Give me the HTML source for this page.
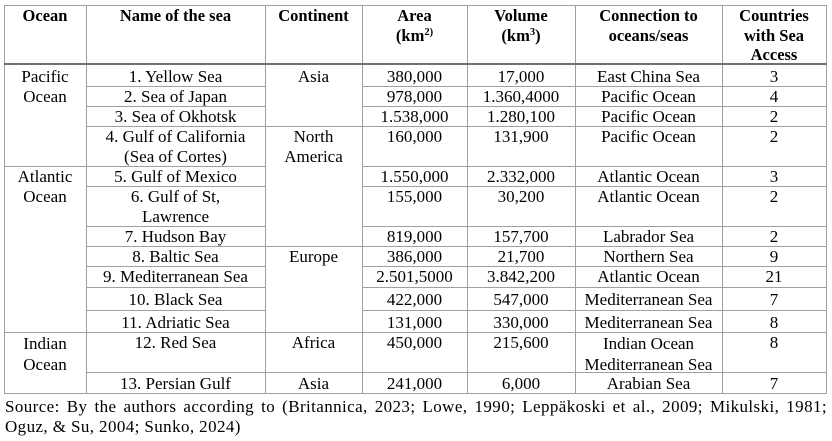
<!DOCTYPE html>
<html>
<head>
<meta charset="utf-8">
<style>
  html,body{margin:0;padding:0;background:#fff;}
  #w{position:relative;width:832px;height:441px;overflow:hidden;background:#fff;
     font-family:"Liberation Serif","Times New Roman",serif;font-size:17px;color:#000;}
  .h{position:absolute;height:1px;background:#a0a0a0;}
  .v{position:absolute;width:1px;background:#a0a0a0;}
  .t{position:absolute;text-align:center;line-height:20px;white-space:nowrap;}
  .b{font-weight:bold;line-height:19.5px;font-size:16.5px;}
  sup{font-size:10.5px;line-height:0;vertical-align:baseline;position:relative;top:-6px;}
  .src{position:absolute;left:5px;width:822px;line-height:20px;letter-spacing:0.4px;}
  .src .l1{display:block;text-align:justify;text-align-last:justify;}
</style>
</head>
<body>
<div id="w">
  <!-- vertical lines -->
  <div class="v" style="left:4px;top:5px;height:389px;"></div>
  <div class="v" style="left:86px;top:5px;height:389px;"></div>
  <div class="v" style="left:265px;top:5px;height:389px;"></div>
  <div class="v" style="left:362px;top:5px;height:389px;"></div>
  <div class="v" style="left:467px;top:5px;height:389px;"></div>
  <div class="v" style="left:575px;top:5px;height:389px;"></div>
  <div class="v" style="left:722px;top:5px;height:389px;"></div>
  <div class="v" style="left:826px;top:5px;height:389px;"></div>

  <!-- horizontal lines -->
  <div class="h" style="left:4px;top:5px;width:823px;"></div>
  <div class="h" style="left:4px;top:63px;width:823px;height:2px;background:#707070;"></div>

  <div class="h" style="left:86px;top:86px;width:179px;"></div>
  <div class="h" style="left:362px;top:86px;width:465px;"></div>
  <div class="h" style="left:86px;top:106px;width:179px;"></div>
  <div class="h" style="left:362px;top:106px;width:465px;"></div>
  <div class="h" style="left:86px;top:126px;width:741px;"></div>
  <div class="h" style="left:4px;top:166px;width:261px;"></div>
  <div class="h" style="left:362px;top:166px;width:465px;"></div>
  <div class="h" style="left:86px;top:186px;width:179px;"></div>
  <div class="h" style="left:362px;top:186px;width:465px;"></div>
  <div class="h" style="left:86px;top:226px;width:179px;"></div>
  <div class="h" style="left:362px;top:226px;width:465px;"></div>
  <div class="h" style="left:86px;top:246px;width:741px;"></div>
  <div class="h" style="left:86px;top:266px;width:179px;"></div>
  <div class="h" style="left:362px;top:266px;width:465px;"></div>
  <div class="h" style="left:86px;top:287px;width:179px;"></div>
  <div class="h" style="left:362px;top:287px;width:465px;"></div>
  <div class="h" style="left:86px;top:310px;width:179px;"></div>
  <div class="h" style="left:362px;top:310px;width:465px;"></div>
  <div class="h" style="left:4px;top:332px;width:823px;"></div>
  <div class="h" style="left:86px;top:372px;width:741px;"></div>
  <div class="h" style="left:4px;top:393px;width:823px;"></div>

  <!-- header -->
  <div class="t b" style="left:4px;width:82px;top:6px;">Ocean</div>
  <div class="t b" style="left:86px;width:179px;top:6px;">Name of the sea</div>
  <div class="t b" style="left:265px;width:97px;top:6px;">Continent</div>
  <div class="t b" style="left:362px;width:105px;top:6px;">Area<br>(km<sup>2)</sup></div>
  <div class="t b" style="left:467px;width:108px;top:6px;">Volume<br>(km<sup>3</sup>)</div>
  <div class="t b" style="left:575px;width:147px;top:6px;">Connection to<br>oceans/seas</div>
  <div class="t b" style="left:722px;width:104px;top:6px;">Countries<br>with Sea<br>Access</div>

  <!-- ocean column -->
  <div class="t" style="left:4px;width:82px;top:67px;">Pacific<br>Ocean</div>
  <div class="t" style="left:4px;width:82px;top:167px;">Atlantic<br>Ocean</div>
  <div class="t" style="left:4px;width:82px;top:333px;line-height:21px;">Indian<br>Ocean</div>

  <!-- continent column -->
  <div class="t" style="left:265px;width:97px;top:67px;">Asia</div>
  <div class="t" style="left:265px;width:97px;top:127px;">North<br>America</div>
  <div class="t" style="left:265px;width:97px;top:247px;">Europe</div>
  <div class="t" style="left:265px;width:97px;top:333px;">Africa</div>
  <div class="t" style="left:265px;width:97px;top:374px;">Asia</div>

  <!-- name column -->
  <div class="t" style="left:86px;width:179px;top:67px;">1. Yellow Sea</div>
  <div class="t" style="left:86px;width:179px;top:87px;">2. Sea of Japan</div>
  <div class="t" style="left:86px;width:179px;top:107px;">3. Sea of Okhotsk</div>
  <div class="t" style="left:86px;width:179px;top:127px;">4. Gulf of California<br>(Sea of Cortes)</div>
  <div class="t" style="left:86px;width:179px;top:167px;">5. Gulf of Mexico</div>
  <div class="t" style="left:86px;width:179px;top:187px;">6. Gulf of St,<br>Lawrence</div>
  <div class="t" style="left:86px;width:179px;top:227px;">7. Hudson Bay</div>
  <div class="t" style="left:86px;width:179px;top:247px;">8. Baltic Sea</div>
  <div class="t" style="left:86px;width:179px;top:267px;">9. Mediterranean Sea</div>
  <div class="t" style="left:86px;width:179px;top:290px;">10. Black Sea</div>
  <div class="t" style="left:86px;width:179px;top:313px;">11. Adriatic Sea</div>
  <div class="t" style="left:86px;width:179px;top:333px;">12. Red Sea</div>
  <div class="t" style="left:86px;width:179px;top:374px;">13. Persian Gulf</div>

  <!-- area column -->
  <div class="t" style="left:362px;width:105px;top:67px;">380,000</div>
  <div class="t" style="left:362px;width:105px;top:87px;">978,000</div>
  <div class="t" style="left:362px;width:105px;top:107px;">1.538,000</div>
  <div class="t" style="left:362px;width:105px;top:127px;">160,000</div>
  <div class="t" style="left:362px;width:105px;top:167px;">1.550,000</div>
  <div class="t" style="left:362px;width:105px;top:187px;">155,000</div>
  <div class="t" style="left:362px;width:105px;top:227px;">819,000</div>
  <div class="t" style="left:362px;width:105px;top:247px;">386,000</div>
  <div class="t" style="left:362px;width:105px;top:267px;">2.501,5000</div>
  <div class="t" style="left:362px;width:105px;top:290px;">422,000</div>
  <div class="t" style="left:362px;width:105px;top:313px;">131,000</div>
  <div class="t" style="left:362px;width:105px;top:333px;">450,000</div>
  <div class="t" style="left:362px;width:105px;top:374px;">241,000</div>

  <!-- volume column -->
  <div class="t" style="left:467px;width:108px;top:67px;">17,000</div>
  <div class="t" style="left:467px;width:108px;top:87px;">1.360,4000</div>
  <div class="t" style="left:467px;width:108px;top:107px;">1.280,100</div>
  <div class="t" style="left:467px;width:108px;top:127px;">131,900</div>
  <div class="t" style="left:467px;width:108px;top:167px;">2.332,000</div>
  <div class="t" style="left:467px;width:108px;top:187px;">30,200</div>
  <div class="t" style="left:467px;width:108px;top:227px;">157,700</div>
  <div class="t" style="left:467px;width:108px;top:247px;">21,700</div>
  <div class="t" style="left:467px;width:108px;top:267px;">3.842,200</div>
  <div class="t" style="left:467px;width:108px;top:290px;">547,000</div>
  <div class="t" style="left:467px;width:108px;top:313px;">330,000</div>
  <div class="t" style="left:467px;width:108px;top:333px;">215,600</div>
  <div class="t" style="left:467px;width:108px;top:374px;">6,000</div>

  <!-- connection column -->
  <div class="t" style="left:575px;width:147px;top:67px;">East China Sea</div>
  <div class="t" style="left:575px;width:147px;top:87px;">Pacific Ocean</div>
  <div class="t" style="left:575px;width:147px;top:107px;">Pacific Ocean</div>
  <div class="t" style="left:575px;width:147px;top:127px;">Pacific Ocean</div>
  <div class="t" style="left:575px;width:147px;top:167px;">Atlantic Ocean</div>
  <div class="t" style="left:575px;width:147px;top:187px;">Atlantic Ocean</div>
  <div class="t" style="left:575px;width:147px;top:227px;">Labrador Sea</div>
  <div class="t" style="left:575px;width:147px;top:247px;">Northern Sea</div>
  <div class="t" style="left:575px;width:147px;top:267px;">Atlantic Ocean</div>
  <div class="t" style="left:575px;width:147px;top:290px;">Mediterranean Sea</div>
  <div class="t" style="left:575px;width:147px;top:313px;">Mediterranean Sea</div>
  <div class="t" style="left:575px;width:147px;top:333px;line-height:21px;">Indian Ocean<br>Mediterranean Sea</div>
  <div class="t" style="left:575px;width:147px;top:374px;">Arabian Sea</div>

  <!-- countries column -->
  <div class="t" style="left:722px;width:104px;top:67px;">3</div>
  <div class="t" style="left:722px;width:104px;top:87px;">4</div>
  <div class="t" style="left:722px;width:104px;top:107px;">2</div>
  <div class="t" style="left:722px;width:104px;top:127px;">2</div>
  <div class="t" style="left:722px;width:104px;top:167px;">3</div>
  <div class="t" style="left:722px;width:104px;top:187px;">2</div>
  <div class="t" style="left:722px;width:104px;top:227px;">2</div>
  <div class="t" style="left:722px;width:104px;top:247px;">9</div>
  <div class="t" style="left:722px;width:104px;top:267px;">21</div>
  <div class="t" style="left:722px;width:104px;top:290px;">7</div>
  <div class="t" style="left:722px;width:104px;top:313px;">8</div>
  <div class="t" style="left:722px;width:104px;top:333px;">8</div>
  <div class="t" style="left:722px;width:104px;top:374px;">7</div>

  <!-- source -->
  <div class="src" style="top:397px;">
    <span class="l1">Source: By the authors according to (Britannica, 2023; Lowe, 1990; Leppäkoski et al., 2009; Mikulski, 1981;</span>
    <span>Oguz, &amp; Su, 2004; Sunko, 2024)</span>
  </div>
</div>
</body>
</html>
